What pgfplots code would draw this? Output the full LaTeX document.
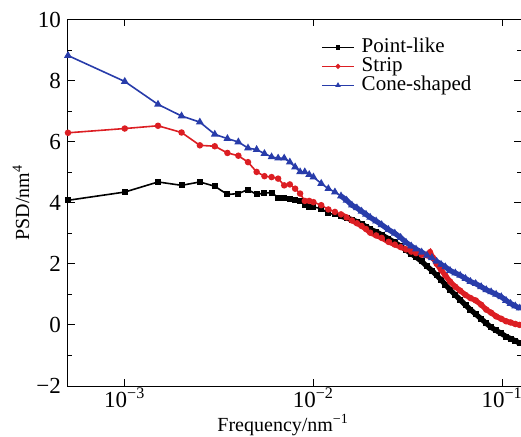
\documentclass[border=0pt]{standalone}
\usepackage{pgfplots}
\pgfplotsset{compat=1.18}
\usepackage{pgfplotstable}
\usepackage{fontspec}
\setmainfont{Liberation Serif}
\definecolor{cred}{RGB}{220,30,35}
\definecolor{cblue}{RGB}{40,60,170}

\pgfplotstableread{
f y
5e-4 4.08
1e-3 4.35
1.5e-3 4.68
2e-3 4.57
2.5e-3 4.68
3e-3 4.54
3.5e-3 4.27
4e-3 4.30
4.5e-3 4.43
5e-3 4.27
5.5e-3 4.32
6e-3 4.33
6.5e-3 4.17
7e-3 4.17
7.5e-3 4.11
8e-3 4.08
8.5e-3 4.06
9e-3 3.92
9.5e-3 3.86
1e-2 3.86
1.1e-2 3.81
1.2e-2 3.65
0.013 3.62
0.014 3.56
0.015 3.50
0.016 3.45
0.017 3.38
0.018 3.30
0.019 3.22
0.020 3.13
0.0215 3.05
0.023 2.95
0.025 2.82
0.027 2.70
0.029 2.58
0.031 2.45
0.033 2.33
0.035 2.22
0.0375 2.08
0.040 1.92
0.0425 1.78
0.045 1.62
0.0475 1.48
0.050 1.32
0.053 1.15
0.0565 0.98
0.060 0.82
0.064 0.65
0.068 0.50
0.0725 0.35
0.0775 0.20
0.0825 0.05
0.0875 -0.08
0.093 -0.18
0.099 -0.28
0.105 -0.38
0.111 -0.45
0.1175 -0.52
0.124 -0.60
}\pointlike

\pgfplotstableread{
f y
5e-4 6.29
1e-3 6.43
1.5e-3 6.52
2e-3 6.30
2.5e-3 5.88
3e-3 5.85
3.5e-3 5.63
4e-3 5.54
4.5e-3 5.33
5e-3 5.01
5.5e-3 4.87
6e-3 4.84
6.5e-3 4.79
7e-3 4.57
7.5e-3 4.60
8e-3 4.46
8.5e-3 4.30
9e-3 4.06
9.5e-3 4.06
1e-2 4.02
1.1e-2 3.92
1.2e-2 3.78
0.013 3.70
0.014 3.62
0.015 3.52
0.016 3.42
0.017 3.33
0.018 3.24
0.019 3.14
0.020 3.02
0.0215 2.93
0.023 2.85
0.025 2.72
0.027 2.63
0.029 2.55
0.031 2.47
0.033 2.40
0.035 2.35
0.0375 2.30
0.040 2.28
0.0415 2.38
0.043 2.20
0.045 2.00
0.0475 1.80
0.050 1.62
0.053 1.42
0.0565 1.25
0.060 1.12
0.064 0.98
0.068 0.88
0.0725 0.80
0.0775 0.66
0.0825 0.50
0.0875 0.40
0.093 0.28
0.099 0.20
0.105 0.12
0.111 0.08
0.1175 0.03
0.124 0.00
}\strip

\pgfplotstableread{
f y
5e-4 8.82
1e-3 7.97
1.5e-3 7.22
2e-3 6.84
2.5e-3 6.64
3e-3 6.24
3.5e-3 6.10
4e-3 5.99
4.5e-3 5.79
5e-3 5.74
5.5e-3 5.61
6e-3 5.50
6.5e-3 5.46
7e-3 5.46
7.5e-3 5.33
8e-3 5.17
8.5e-3 5.01
9e-3 5.01
9.5e-3 4.92
1e-2 4.84
1.1e-2 4.63
1.2e-2 4.46
0.013 4.35
0.014 4.22
0.015 4.08
0.016 3.92
0.017 3.83
0.018 3.72
0.019 3.62
0.020 3.52
0.0215 3.40
0.023 3.28
0.025 3.12
0.027 3.00
0.029 2.86
0.031 2.70
0.033 2.58
0.035 2.48
0.0375 2.38
0.040 2.28
0.0425 2.20
0.045 2.08
0.0475 1.98
0.050 1.90
0.053 1.78
0.0565 1.70
0.060 1.62
0.064 1.52
0.068 1.42
0.0725 1.35
0.0775 1.25
0.0825 1.15
0.0875 1.08
0.093 1.00
0.099 0.92
0.105 0.80
0.111 0.70
0.1175 0.62
0.124 0.55
}\cone

\begin{document}
\begin{tikzpicture}
\begin{axis}[
  name=ax,
  scale only axis, width=226.5pt, height=183.25pt,
  xmode=log, xmin=5e-4, xmax=0.126, ymin=-2, ymax=10,
  xtick={1e-3,1e-2,1e-1},
  xticklabels={10\textsuperscript{−3},10\textsuperscript{−2},10\textsuperscript{−1}},
  xminorticks=false,
  ytick={-2,0,2,4,6,8,10},
  yticklabels={−2,0,2,4,6,8,10},
  minor y tick num=1,
  major tick length=3.5pt, minor tick length=2pt,
  tick style={black, line width=0.5pt},
  axis line style={line width=0.5pt},
  tick label style={font=\fontsize{11.5}{12}\selectfont},
  xticklabel style={yshift=2.5pt},
  xlabel={Frequency/nm\textsuperscript{−1}},
  ylabel={PSD/nm\textsuperscript{4}},
  label style={font=\fontsize{10.5}{11}\selectfont},
  every axis x label/.style={at={(axis description cs:0.475,-0.123)}, anchor=base},
  every axis y label/.style={at={(axis description cs:-0.104,0.5)}, rotate=90, anchor=center},
  legend style={draw=none, fill=none, font=\fontsize{10.5}{11}\selectfont,
    at={(axis description cs:0.545,0.962)}, anchor=north west,
    nodes={inner sep=0pt, text height=7.2pt, text depth=2.3pt},
    row sep=0pt, column sep=3.5pt},
  legend cell align=left,
  legend image code/.code={\draw[line width=0.8pt, mark size=0.8pt, mark repeat=2,mark phase=2] plot coordinates {(0cm,0cm)(0.28cm,0cm)(0.56cm,0cm)};},
]
\addplot[black, line width=0.8pt, mark=square*, mark size=1.1pt] table[x=f,y=y] {\pointlike};
\addlegendentry{Point-like}
\addplot[cred, line width=0.8pt, mark=*, mark size=1.2pt] table[x=f,y=y] {\strip};
\addlegendentry{Strip}
\addplot[cblue, line width=0.8pt, mark=triangle*, mark size=1.5pt] table[x=f,y=y] {\cone};
\addlegendentry{Cone-shaped}
\addplot[black, line width=2.6pt, forget plot, restrict expr to domain={\thisrow{f}}{0.0135:1}] table[x=f,y=y] {\pointlike};
\addplot[cred, line width=2.6pt, forget plot, restrict expr to domain={\thisrow{f}}{0.0135:1}] table[x=f,y=y] {\strip};
\addplot[cblue, line width=2.6pt, forget plot, restrict expr to domain={\thisrow{f}}{0.0135:1}] table[x=f,y=y] {\cone};
\end{axis}
\pgfresetboundingbox
\path[use as bounding box] ([xshift=-34pt,yshift=-25pt]ax.south west) rectangle ([yshift=9.75pt]ax.north east);
\end{tikzpicture}
\end{document}
